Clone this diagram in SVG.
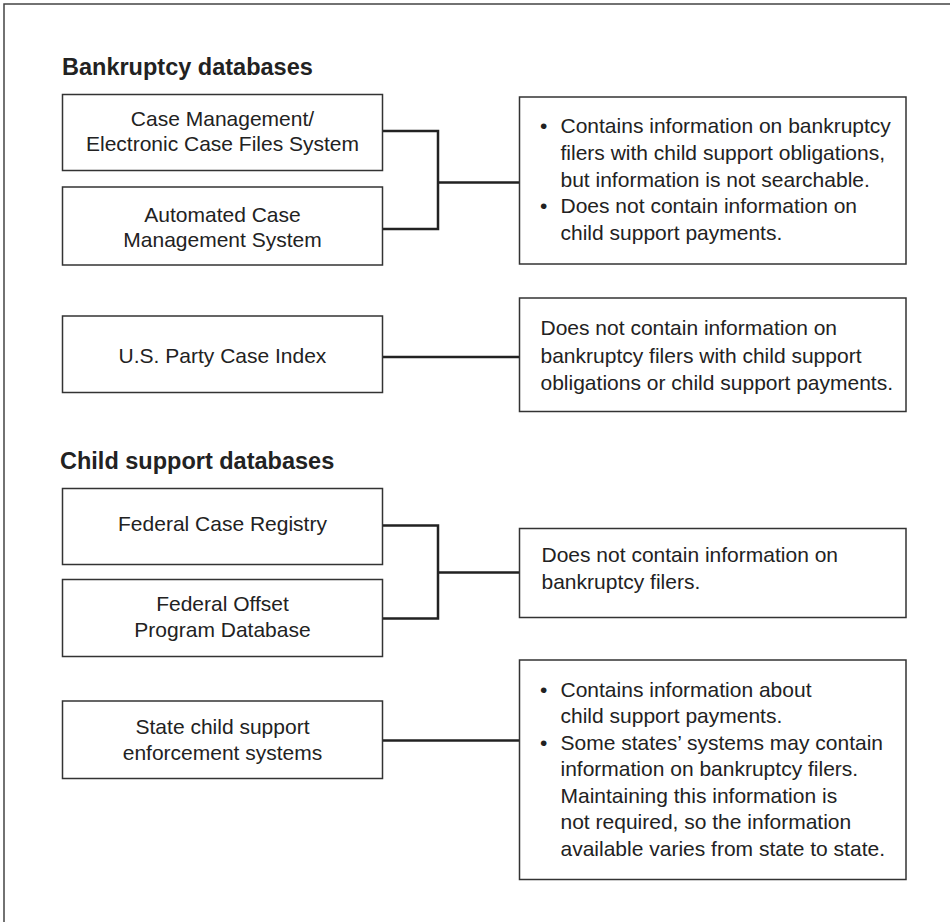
<svg xmlns="http://www.w3.org/2000/svg" width="950" height="922" viewBox="0 0 950 922">
<style>
.frame{fill:none;stroke:#444;stroke-width:1.5}
.box{fill:#fff;stroke:#333;stroke-width:1.5}
.conn{fill:none;stroke:#222;stroke-width:2.5}
text{font-family:"Liberation Sans",Arial,sans-serif;fill:#222;font-size:21px}
.h{font-weight:bold;font-size:23.5px}
.c{text-anchor:middle}
</style>
<rect width="950" height="922" fill="#fff"/>
<path class="frame" d="M4,922 V4 H950"/>
<text class="h" x="62" y="75">Bankruptcy databases</text>
<text class="h" x="60" y="469">Child support databases</text>
<g id="connectors">
<path class="conn" d="M382,131 H438 V229 H382 M438,182.5 H520"/>
<path class="conn" d="M382,357 H520"/>
<path class="conn" d="M382,525.5 H438 V618.5 H382 M438,572.5 H520"/>
<path class="conn" d="M382,740.5 H520"/>
</g>
<g id="cmecf">
<rect class="box" x="62.5" y="94.5" width="320" height="76"/>
<text class="c" x="222.5" y="126">Case Management/</text>
<text class="c" x="222.5" y="151">Electronic Case Files System</text>
</g>
<g id="acms">
<rect class="box" x="62.5" y="187" width="320" height="78"/>
<text class="c" x="222.5" y="222">Automated Case</text>
<text class="c" x="222.5" y="247">Management System</text>
</g>
<g id="uspci">
<rect class="box" x="62.5" y="316" width="320" height="76.5"/>
<text class="c" x="222.5" y="363">U.S. Party Case Index</text>
</g>
<g id="fcr">
<rect class="box" x="62.5" y="488.5" width="320" height="76"/>
<text class="c" x="222.5" y="531">Federal Case Registry</text>
</g>
<g id="fopd">
<rect class="box" x="62.5" y="579.5" width="320" height="77"/>
<text class="c" x="222.5" y="611">Federal Offset</text>
<text class="c" x="222.5" y="637">Program Database</text>
</g>
<g id="state">
<rect class="box" x="62.5" y="701" width="320" height="77.5"/>
<text class="c" x="222.5" y="733.5">State child support</text>
<text class="c" x="222.5" y="760">enforcement systems</text>
</g>
<g id="note1">
<rect class="box" x="519.5" y="97" width="386.5" height="167"/>
<text x="540" y="133">•</text>
<text x="560.5" y="133">Contains information on bankruptcy</text>
<text x="560.5" y="160">filers with child support obligations,</text>
<text x="560.5" y="186.5">but information is not searchable.</text>
<text x="540" y="213">•</text>
<text x="560.5" y="213">Does not contain information on</text>
<text x="560.5" y="240">child support payments.</text>
</g>
<g id="note2">
<rect class="box" x="519.5" y="298" width="386.5" height="113.5"/>
<text x="540.5" y="335">Does not contain information on</text>
<text x="540.5" y="362.5">bankruptcy filers with child support</text>
<text x="540.5" y="389.5">obligations or child support payments.</text>
</g>
<g id="note3">
<rect class="box" x="519.5" y="528.5" width="386.5" height="89"/>
<text x="541.5" y="561.5">Does not contain information on</text>
<text x="541.5" y="588.5">bankruptcy filers.</text>
</g>
<g id="note4">
<rect class="box" x="519.5" y="660" width="386.5" height="219.5"/>
<text x="540" y="696.5">•</text>
<text x="560.5" y="696.5">Contains information about</text>
<text x="560.5" y="723">child support payments.</text>
<text x="540" y="749.5">•</text>
<text x="560.5" y="749.5">Some states’ systems may contain</text>
<text x="560.5" y="776">information on bankruptcy filers.</text>
<text x="560.5" y="802.5">Maintaining this information is</text>
<text x="560.5" y="829">not required, so the information</text>
<text x="560.5" y="856">available varies from state to state.</text>
</g>
</svg>
